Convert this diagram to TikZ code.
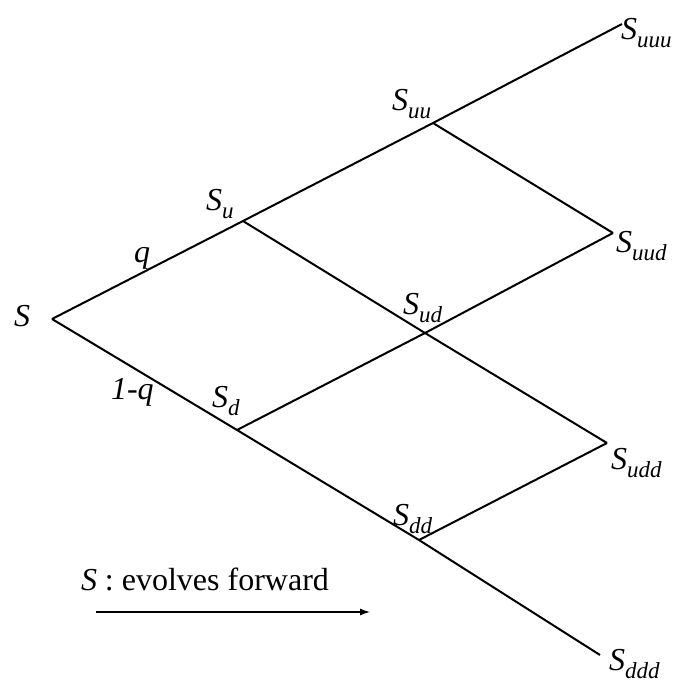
\documentclass[tikz,border=0pt]{standalone}
\usepackage{fontspec}
\setmainfont{Liberation Serif}
\usetikzlibrary{arrows.meta}

\tikzset{every picture/.style={line width=2pt}}
\tikzset{lab/.style={anchor=base west, inner sep=0pt, font=\fontsize{32}{36}\selectfont}}
\newcommand{\price}[1]{\textit{S}\raisebox{-8pt}{\fontsize{23}{23}\selectfont\itshape #1}}

\begin{document}
\begin{tikzpicture}[x=1pt,y=1pt,yscale=-1]
\useasboundingbox (0,0) rectangle (678,686);

% Tree points
\coordinate (s) at (52,319);
\coordinate (u) at (243,221);
\coordinate (d) at (237,430);
\coordinate (uu) at (433,123);
\coordinate (ud) at (425,333);
\coordinate (dd) at (419,540);
\coordinate (uuu) at (622,24);
\coordinate (uud) at (613,233);
\coordinate (udd) at (607,443);
\coordinate (ddd) at (600,655);

% Branches
\draw (s) -- (u) -- (uu) -- (uuu);
\draw (s) -- (d) -- (dd) -- (ddd);
\draw (u) -- (ud) -- (udd);
\draw (d) -- (ud) -- (uud);
\draw (uu) -- (uud);
\draw (dd) -- (udd);

% Text Node
\node[lab] (ls) at (13,326) {\textit{S}};
\node[lab] (lu) at (205,210) {\price{u}};
\node[lab] (luu) at (391,110) {\price{uu}};
\node[lab] (luuu) at (620,39) {\price{uuu}};
\node[lab] (lud) at (402,314) {\price{ud}};
\node[lab] (luud) at (615,252) {\price{uud}};
\node[lab] (ld) at (211,407) {\price{d}};
\node[lab] (ldd) at (392,525) {\price{dd}};
\node[lab] (ludd) at (610,469) {\price{udd}};
\node[lab] (lddd) at (608,670) {\price{ddd}};
% Probabilities
\node[lab] (q) at (133,262) {\textit{q}};
\node[lab] (nq) at (110,399) {\textit{1-q}};

% Time direction
\node[lab] (txt) at (80,590) {\textit{S} : evolves forward};
\coordinate (arrA) at (96,612);
\coordinate (arrB) at (370,612);
\draw[line width=1.2pt, -{Latex[length=10pt,width=7pt]}] (arrA) -- (arrB);

\end{tikzpicture}
\end{document}
